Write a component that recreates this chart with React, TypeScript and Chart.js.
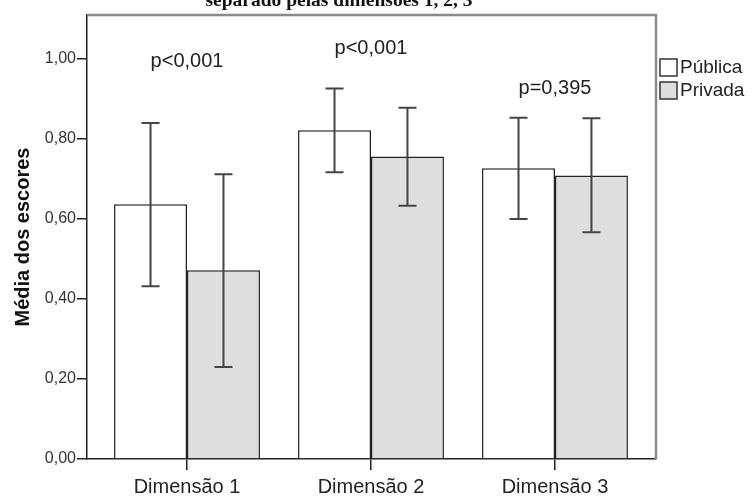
import React, { useEffect, useRef } from "react";
import { Chart, registerables } from "chart.js";

Chart.register(...registerables);

const categories = ["Dimensão 1", "Dimensão 2", "Dimensão 3"];
const seriesNames = ["Pública", "Privada"];
const publica = [0.637, 0.822, 0.727];
const privada = [0.472, 0.756, 0.709];
const publicaLow = [0.432, 0.717, 0.6];
const publicaHigh = [0.84, 0.926, 0.853];
const privadaLow = [0.23, 0.633, 0.567];
const privadaHigh = [0.712, 0.878, 0.852];
const pLabels = ["p<0,001", "p<0,001", "p=0,395"];
const pLabelLevels = [0.995, 1.0275, 0.9275];
const yTicks = [0, 0.2, 0.4, 0.6, 0.8, 1.0];
const titleText = "separado pelas dimensões 1, 2, 3";

const lows = [publicaLow, privadaLow];
const highs = [publicaHigh, privadaHigh];
const fills = ["#ffffff", "#dedede"];

const extrasPlugin = {
  id: "extras",
  afterDatasetsDraw(chart: any) {
    const ctx = chart.ctx;
    const yS = chart.scales.y;
    const xS = chart.scales.x;
    const area = chart.chartArea;
    ctx.save();
    // error bars
    chart.data.datasets.forEach((_ds: any, di: number) => {
      const meta = chart.getDatasetMeta(di);
      meta.data.forEach((el: any, i: number) => {
        const x = el.x;
        const yh = yS.getPixelForValue(highs[di][i]);
        const yl = yS.getPixelForValue(lows[di][i]);
        ctx.strokeStyle = "#444";
        ctx.lineWidth = 2;
        ctx.beginPath();
        ctx.moveTo(x, yh);
        ctx.lineTo(x, yl);
        ctx.moveTo(x - 9, yh);
        ctx.lineTo(x + 9, yh);
        ctx.moveTo(x - 9, yl);
        ctx.lineTo(x + 9, yl);
        ctx.stroke();
      });
    });
    // p labels
    ctx.fillStyle = "#222";
    ctx.font = "20px 'Liberation Sans', Arial, sans-serif";
    ctx.textAlign = "center";
    ctx.textBaseline = "middle";
    pLabels.forEach((t, i) => {
      ctx.fillText(t, xS.getPixelForValue(i), yS.getPixelForValue(pLabelLevels[i]));
    });
    // frame top/right
    ctx.strokeStyle = "#8a8a8a";
    ctx.lineWidth = 2.5;
    ctx.beginPath();
    ctx.moveTo(area.left, area.top);
    ctx.lineTo(area.right, area.top);
    ctx.lineTo(area.right, area.bottom);
    ctx.stroke();
    // legend
    const lx = area.right + 4;
    ctx.font = "19px 'Liberation Sans', Arial, sans-serif";
    seriesNames.forEach((name, i) => {
      const by = 59 + i * 23;
      ctx.fillStyle = fills[i];
      ctx.fillRect(lx, by, 17, 17);
      ctx.strokeStyle = "#333";
      ctx.lineWidth = 1.5;
      ctx.strokeRect(lx, by, 17, 17);
      ctx.fillStyle = "#222";
      ctx.textAlign = "left";
      ctx.fillText(name, lx + 20, by + 9);
    });
    // title (clipped at top)
    ctx.font = "bold 19.5px 'Liberation Serif', 'Times New Roman', serif";
    ctx.textAlign = "center";
    ctx.textBaseline = "alphabetic";
    ctx.fillStyle = "#111";
    ctx.fillText(titleText, 339, 6);
    ctx.restore();
  },
};

export default function App() {
  const ref = useRef<HTMLCanvasElement | null>(null);
  useEffect(() => {
    if (!ref.current) return;
    const chart = new Chart(ref.current, {
      type: "bar",
      data: {
        datasets: [
          {
            label: seriesNames[0],
            data: publica.map((v, i) => ({ x: i, y: v })),
            backgroundColor: fills[0],
            borderColor: "#222",
            borderWidth: 1.5,
          },
          {
            label: seriesNames[1],
            data: privada.map((v, i) => ({ x: i, y: v })),
            backgroundColor: fills[1],
            borderColor: "#222",
            borderWidth: 1.5,
          },
        ],
      },
      options: {
        responsive: false,
        animation: false,
        events: [],
        categoryPercentage: 0.793,
        barPercentage: 1,
        layout: { padding: { top: 15, right: 97, left: 0, bottom: 0 } },
        plugins: { legend: { display: false }, tooltip: { enabled: false }, title: { display: false } },
        scales: {
          x: {
            type: "linear",
            offset: false,
            bounds: "data",
            min: -0.5435,
            max: 2.549,
            afterBuildTicks: (s: any) => {
              s.ticks = categories.map((_c, i) => ({ value: i }));
            },
            afterFit: (s: any) => {
              s.height = 39;
            },
            ticks: {
              callback: (v: any) => categories[v as number],
              font: { size: 20, family: "'Liberation Sans', Arial, sans-serif" },
              color: "#222",
              padding: 5,
              maxRotation: 0,
              autoSkip: false,
            },
            grid: { offset: false, drawOnChartArea: false, tickLength: 11, color: "#222", lineWidth: 1.5 },
            border: { display: true, color: "#222", width: 1.5 },
          },
          y: {
            type: "linear",
            min: 0,
            max: 1.11,
            afterBuildTicks: (s: any) => {
              s.ticks = yTicks.map((v) => ({ value: v }));
            },
            afterFit: (s: any) => {
              s.width = 87;
            },
            ticks: {
              callback: (v: any) => Number(v).toFixed(2).replace(".", ","),
              font: { size: 16, family: "'Liberation Sans', Arial, sans-serif" },
              color: "#333",
              padding: 1,
            },
            grid: { drawOnChartArea: false, tickLength: 10, color: "#222", lineWidth: 1.5 },
            border: { display: true, color: "#222", width: 1.5 },
            title: {
              display: true,
              text: "Média dos escores",
              font: { size: 20, weight: "bold", family: "'Liberation Sans', Arial, sans-serif" },
              color: "#111",
              padding: { top: 11, bottom: 0 },
            },
          },
        },
      },
      plugins: [extrasPlugin],
    } as any);
    return () => chart.destroy();
  }, []);
  return (
    <div style={{ position: "absolute", left: 0, top: 0, width: 753, height: 498, background: "#fff" }}>
      <canvas ref={ref} width={753} height={498} />
    </div>
  );
}
